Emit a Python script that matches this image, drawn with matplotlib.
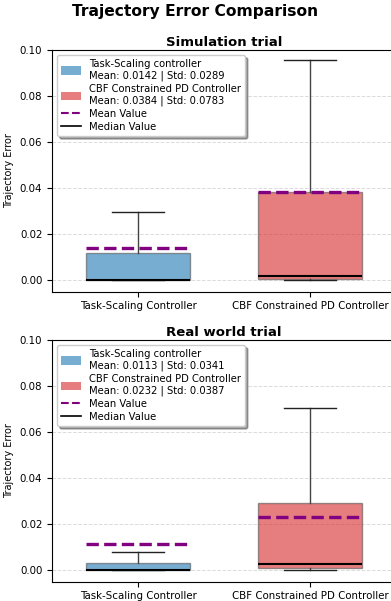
import matplotlib
matplotlib.use("Agg")
import matplotlib.pyplot as plt
from matplotlib.patches import Patch
from matplotlib.lines import Line2D

# box statistics
labels = ["Task-Scaling Controller", "CBF Constrained PD Controller"]
legend_names = ["Task-Scaling controller", "CBF Constrained PD Controller"]

sim_q1 = [0.0, 0.0005]
sim_med = [0.0, 0.0020]
sim_q3 = [0.0117, 0.0385]
sim_lo = [0.0, 0.0]
sim_hi = [0.0295, 0.0955]
sim_mean = [0.0142, 0.0384]
sim_std = [0.0289, 0.0783]

real_q1 = [0.0, 0.0010]
real_med = [0.0, 0.0027]
real_q3 = [0.0030, 0.0290]
real_lo = [0.0, 0.0]
real_hi = [0.0078, 0.0705]
real_mean = [0.0113, 0.0232]
real_std = [0.0341, 0.0387]

colors = ["#1f77b4", "#d62728"]

fig = plt.figure(figsize=(3.91, 6.01), dpi=100)
fig.suptitle("Trajectory Error Comparison", fontsize=11.2, fontweight="bold", y=0.993)

ax1 = fig.add_axes([0.133, 0.5146, 0.88, 0.4022])
ax2 = fig.add_axes([0.133, 0.0321, 0.88, 0.4022])


def draw(ax, title, q1, med, q3, lo, hi, mean, std):
    stats = []
    for i in range(2):
        stats.append(dict(label=labels[i], q1=q1[i], med=med[i], q3=q3[i],
                          whislo=lo[i], whishi=hi[i], fliers=[]))
    bp = ax.bxp(stats, positions=[0, 1], widths=0.6, patch_artist=True,
                showfliers=False,
                boxprops=dict(edgecolor="#555555", linewidth=1.0),
                whiskerprops=dict(color="#444444", linewidth=1.0),
                capprops=dict(color="#222222", linewidth=1.0),
                medianprops=dict(color="black", linewidth=1.5))
    for patch, c in zip(bp["boxes"], colors):
        patch.set_facecolor(c)
        patch.set_alpha(0.6)
    for i in range(2):
        ax.hlines(mean[i], i - 0.3, i + 0.3, colors="purple",
                  linestyles="--", linewidth=2.4, zorder=5)
    ax.set_xlim(-0.5, 1.5)
    ax.set_ylim(-0.005, 0.1)
    ax.set_yticks([0.0, 0.02, 0.04, 0.06, 0.08, 0.10])
    ax.yaxis.grid(True, linestyle="--", color="#cccccc", alpha=0.7, linewidth=0.7)
    ax.set_axisbelow(True)
    ax.tick_params(labelsize=7.4)
    ax.set_title(title, fontsize=9.5, fontweight="bold", pad=3)
    ax.set_ylabel("Trajectory Error", fontsize=7)
    handles = [
        Patch(facecolor=colors[0], alpha=0.6,
              label=f"{legend_names[0]}\nMean: {mean[0]:.4f} | Std: {std[0]:.4f}"),
        Patch(facecolor=colors[1], alpha=0.6,
              label=f"{legend_names[1]}\nMean: {mean[1]:.4f} | Std: {std[1]:.4f}"),
        Line2D([0], [0], color="purple", linestyle="--", linewidth=1.5, label="Mean Value"),
        Line2D([0], [0], color="black", linewidth=1.2, label="Median Value"),
    ]
    ax.legend(handles=handles, loc="upper left", fontsize=7.2, shadow=True,
              labelspacing=0.3, handlelength=2, handleheight=0.9, borderpad=0.4,
              bbox_to_anchor=(0.0, 1.0))


draw(ax1, "Simulation trial", sim_q1, sim_med, sim_q3, sim_lo, sim_hi, sim_mean, sim_std)
draw(ax2, "Real world trial", real_q1, real_med, real_q3, real_lo, real_hi, real_mean, real_std)

fig.savefig("out.png", dpi=100)
